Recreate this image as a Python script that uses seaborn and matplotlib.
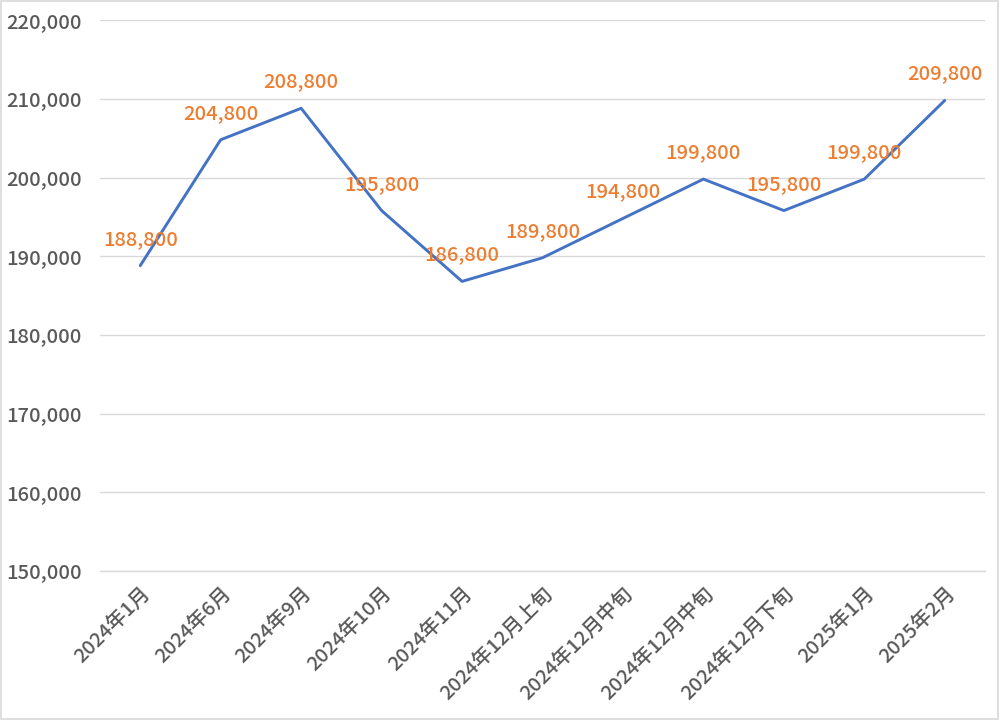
import matplotlib
matplotlib.use("Agg")
import matplotlib.pyplot as plt
import seaborn as sns
import pandas as pd
import numpy as np
from matplotlib.ticker import FuncFormatter, FixedLocator
from matplotlib.patches import Rectangle

categories = ["2024年1月", "2024年6月", "2024年9月", "2024年10月", "2024年11月",
              "2024年12月上旬", "2024年12月中旬", "2024年12月中旬", "2024年12月下旬",
              "2025年1月", "2025年2月"]
prices = [188800, 204800, 208800, 195800, 186800, 189800, 194800, 199800, 195800, 199800, 209800]
y_ticks = [150000, 160000, 170000, 180000, 190000, 200000, 210000, 220000]

sns.set_theme(style="white")
plt.rcParams['font.family'] = ['Noto Sans CJK JP', 'DejaVu Sans']

df = pd.DataFrame({"pos": np.arange(len(categories)), "price": prices})

fig = plt.figure(figsize=(10, 7.2), dpi=100)
ax = fig.add_axes([0.100, 0.207, 0.885, 0.765])

sns.lineplot(data=df, x="pos", y="price", ax=ax, color="#4472C4", linewidth=2.1)

ax.set_xlim(-0.5, len(categories) - 0.5)
ax.set_ylim(y_ticks[0], y_ticks[-1])
ax.set_yticks(y_ticks)
ax.yaxis.set_major_formatter(FuncFormatter(lambda v, p: f"{int(v):,}"))
ax.grid(axis="y", color="#d9d9d9", linewidth=1.0)
ax.set_axisbelow(True)

ax.set_xticks(df["pos"])
ax.set_xticklabels(categories, rotation=45, ha="right", rotation_mode="anchor",
                   fontsize=14.5, color="#595959", fontweight="medium")
ax.tick_params(axis="x", which="major", length=0, pad=9)
ax.xaxis.set_minor_locator(FixedLocator(np.arange(-0.5, len(categories), 1.0)))
ax.tick_params(axis="x", which="minor", length=6, color="#d9d9d9", width=1, direction="out")
ax.tick_params(axis="y", length=0, labelsize=14.5, labelcolor="#595959", pad=13)
for lab in ax.get_yticklabels():
    lab.set_fontweight("medium")

for s in ["top", "right", "left"]:
    ax.spines[s].set_visible(False)
ax.spines["bottom"].set_color("#d9d9d9")
ax.spines["bottom"].set_linewidth(1.0)

ax.set_xlabel("")
ax.set_ylabel("")

for x, y in zip(df["pos"], df["price"]):
    ax.annotate(f"{y:,}", (x, y), xytext=(0, 19), textcoords="offset points",
                ha="center", va="center", fontsize=14.5, color="#ED7D31",
                fontweight="medium")

fig.patches.append(Rectangle((0.001, 0.001), 0.997, 0.997, transform=fig.transFigure,
                             fill=False, edgecolor="#d9d9d9", linewidth=1.2))

fig.savefig("out.png", dpi=100)
